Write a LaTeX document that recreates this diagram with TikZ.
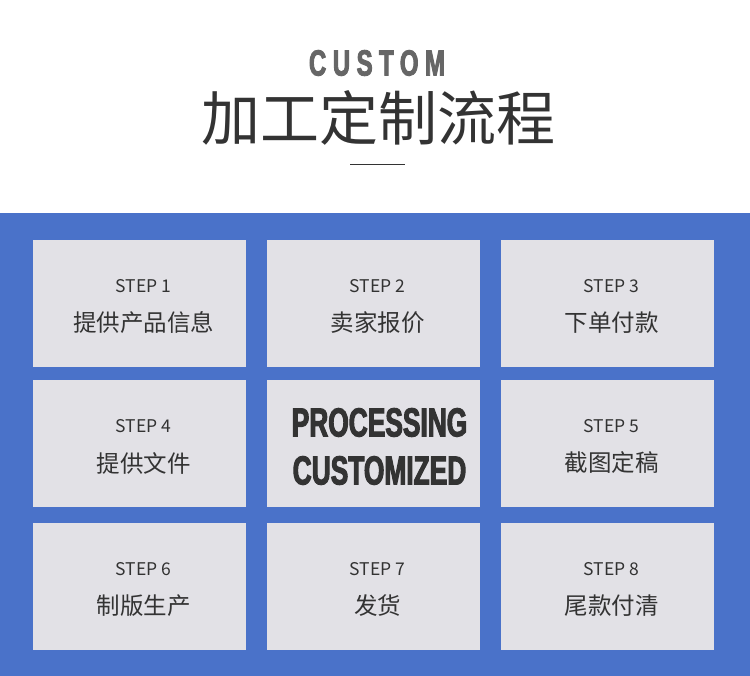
\documentclass[tikz,border=0pt]{standalone}
\usepackage{fontspec}
\newfontfamily\cjk{Noto Sans CJK SC}
\newfontfamily\impact[FakeStretch=0.65,FakeBold=2.5]{Liberation Sans}
\newfontfamily\impactsp[FakeStretch=0.66,FakeBold=2.5,LetterSpace=18]{Liberation Sans}
\definecolor{band}{HTML}{4A72C9}
\definecolor{cell}{HTML}{E2E1E6}
\definecolor{ink}{HTML}{333333}
\definecolor{grayt}{HTML}{666666}
\tikzset{
  cellbox/.style={fill=cell, draw=none, minimum width=213pt, minimum height=127pt, inner sep=0pt},
  steplbl/.style={text=ink, inner sep=0pt, font=\cjk\fontsize{17.5}{17.5}\selectfont},
  cnlbl/.style={text=ink, inner sep=0pt, font=\cjk\fontsize{23.5}{23.5}\selectfont},
  biglbl/.style={text=ink, inner sep=0pt, font=\impact\bfseries\fontsize{40.5}{40.5}\selectfont}
}
\begin{document}
\begin{tikzpicture}[x=1pt,y=-1pt]
\useasboundingbox (0,0) rectangle (750,676);
\fill[white] (0,0) rectangle (750,676);
\fill[band] (0,213) rectangle (750,676);
% title
\node[text=grayt, inner sep=0pt, font=\impactsp\bfseries\fontsize{36.3}{36.3}\selectfont] (ttl1) at (377,63) {CUSTOM};
\node[text=ink, inner sep=0pt, font=\cjk\fontsize{59}{59}\selectfont] (ttl2) at (378,118) {加工定制流程};
\coordinate (la) at (350,165);
\coordinate (lb) at (405,165);
\draw[ink, line width=1pt] (la) -- (lb);
% cells
\node[cellbox] (b1) at (139.5,303.5) {};
\node[cellbox] (b2) at (373.5,303.5) {};
\node[cellbox] (b3) at (607.5,303.5) {};
\node[cellbox] (b4) at (139.5,443.5) {};
\node[cellbox] (b5) at (373.5,443.5) {};
\node[cellbox] (b6) at (607.5,443.5) {};
\node[cellbox] (b7) at (139.5,586.5) {};
\node[cellbox] (b8) at (373.5,586.5) {};
\node[cellbox] (b9) at (607.5,586.5) {};
% labels
\node[steplbl] (s1) at ([xshift=4pt,yshift=17pt]b1.center) {STEP 1};
\node[cnlbl] (c1) at ([xshift=4pt,yshift=-19.5pt]b1.center) {提供产品信息};
\node[steplbl] (s2) at ([xshift=4pt,yshift=17pt]b2.center) {STEP 2};
\node[cnlbl] (c2) at ([xshift=4pt,yshift=-19.5pt]b2.center) {卖家报价};
\node[steplbl] (s3) at ([xshift=4pt,yshift=17pt]b3.center) {STEP 3};
\node[cnlbl] (c3) at ([xshift=4pt,yshift=-19.5pt]b3.center) {下单付款};
\node[steplbl] (s4) at ([xshift=4pt,yshift=17pt]b4.center) {STEP 4};
\node[cnlbl] (c4) at ([xshift=4pt,yshift=-19.5pt]b4.center) {提供文件};
\node[biglbl] (p1) at ([xshift=6pt,yshift=21pt]b5.center) {PROCESSING};
\node[biglbl] (p2) at ([xshift=6pt,yshift=-27pt]b5.center) {CUSTOMIZED};
\node[steplbl] (s5) at ([xshift=4pt,yshift=17pt]b6.center) {STEP 5};
\node[cnlbl] (c5) at ([xshift=4pt,yshift=-19.5pt]b6.center) {截图定稿};
\node[steplbl] (s6) at ([xshift=4pt,yshift=17pt]b7.center) {STEP 6};
\node[cnlbl] (c6) at ([xshift=4pt,yshift=-19.5pt]b7.center) {制版生产};
\node[steplbl] (s7) at ([xshift=4pt,yshift=17pt]b8.center) {STEP 7};
\node[cnlbl] (c7) at ([xshift=4pt,yshift=-19.5pt]b8.center) {发货};
\node[steplbl] (s8) at ([xshift=4pt,yshift=17pt]b9.center) {STEP 8};
\node[cnlbl] (c8) at ([xshift=4pt,yshift=-19.5pt]b9.center) {尾款付清};
\end{tikzpicture}
\end{document}
